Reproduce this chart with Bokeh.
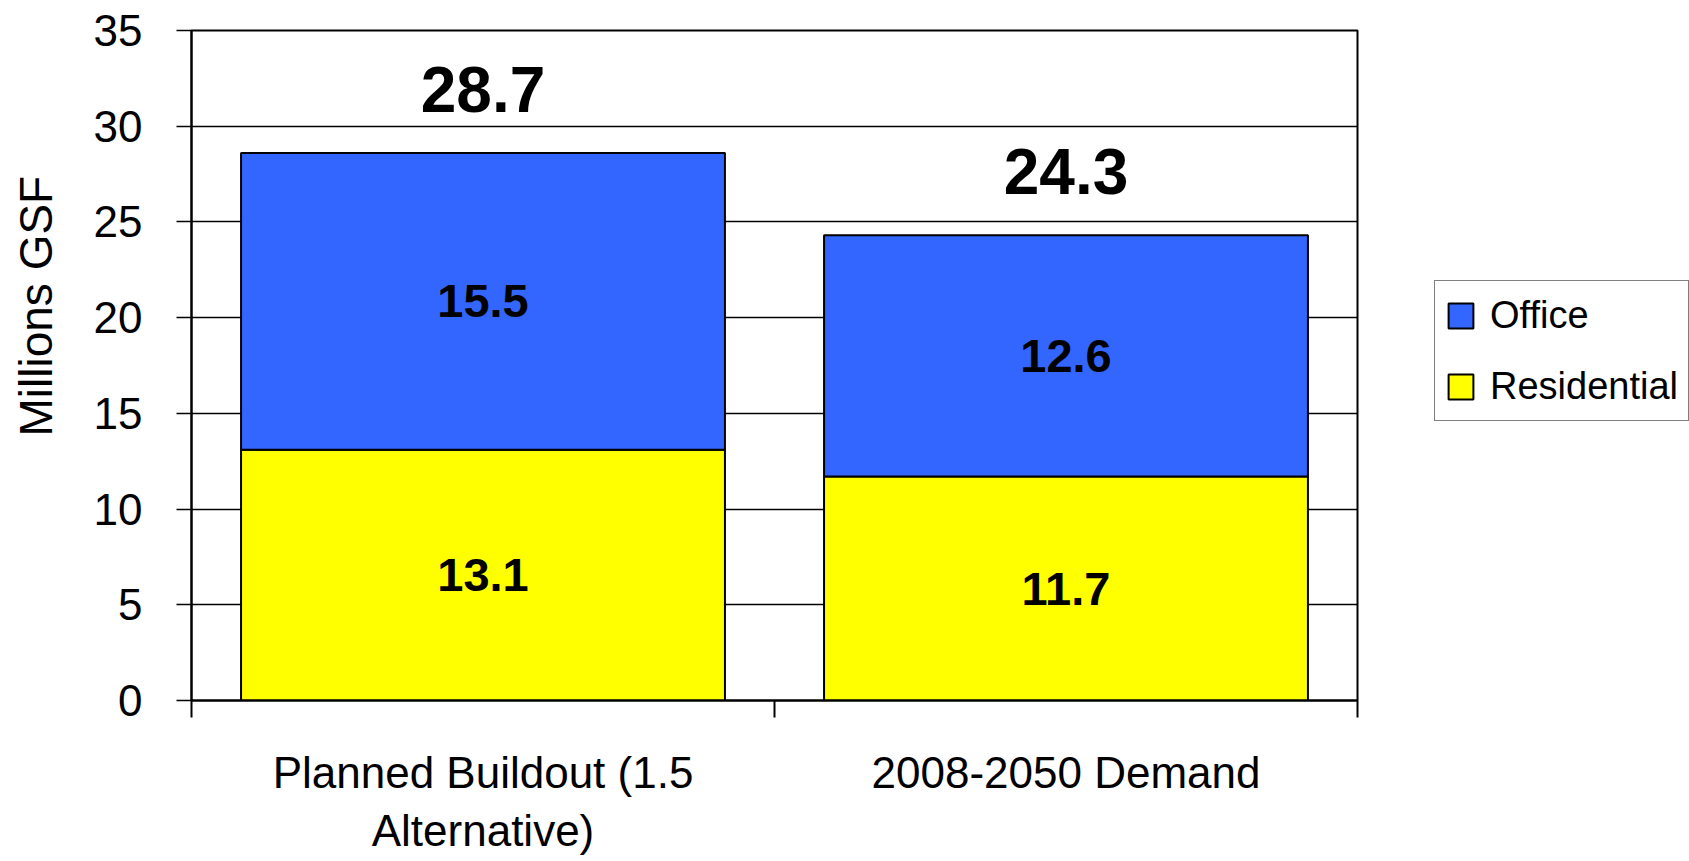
import math
import numpy as np
from bokeh.plotting import figure
from bokeh.layouts import row
from bokeh.models import (FixedTicker, Legend, LegendItem, Label,
                          ColumnDataSource, Range1d)
from bokeh.core.properties import value
from bokeh.embed import file_html
from bokeh.resources import INLINE

# ---- data ----
categories = ["Planned Buildout (1.5\nAlternative)", "2008-2050 Demand"]
residential = [13.1, 11.7]
office = [15.5, 12.6]
totals = [28.7, 24.3]
series = ["Office", "Residential"]
colors = {"Office": "#3366FF", "Residential": "#FFFF00"}
y_ticks = [0, 5, 10, 15, 20, 25, 30, 35]
y_label = "Millions GSF"

FONT = "Liberation Sans"
Y_MAX = 35

x = [i + 0.5 for i in range(len(categories))]
res = np.array(residential)
off = np.array(office)
top = res + off

src = ColumnDataSource(dict(x=x, res=residential, off=office))
stack_cols = ["res", "off"]
stack_colors = [colors["Residential"], colors["Office"]]

TITLE_W = 70

# ---- left strip holding the y-axis title ----
t = figure(width=TITLE_W, height=861, x_range=Range1d(0, 1),
           y_range=Range1d(0, Y_MAX),
           output_backend="svg", toolbar_location=None,
           x_axis_type=None, y_axis_type=None,
           min_border_left=0, min_border_right=0,
           min_border_top=30, min_border_bottom=161,
           background_fill_color="white", border_fill_color="white")
t.outline_line_color = None
t.grid.visible = False
t.add_layout(Label(x=0.5, y=20.6, text=y_label, angle=math.pi / 2,
                   text_align="center", text_baseline="middle",
                   text_font=FONT, text_font_size="46px",
                   text_color="black"))

# ---- main plot ----
p = figure(width=1360 - TITLE_W, height=861,
           x_range=Range1d(0, len(categories)), y_range=Range1d(0, Y_MAX),
           output_backend="svg", toolbar_location=None,
           min_border_left=191 - TITLE_W, min_border_right=3,
           min_border_top=30, min_border_bottom=161,
           background_fill_color="white", border_fill_color="white")

p.vbar_stack(stack_cols, x="x", width=0.83, source=src,
             fill_color=stack_colors, line_color="black", line_width=2)

# segment labels
seg_src = ColumnDataSource(dict(
    x=x + x,
    y=list(res / 2) + list(res + off / 2),
    t=[f"{v:.1f}" for v in residential] + [f"{v:.1f}" for v in office]))
p.text(x="x", y="y", text="t", source=seg_src,
       text_font=value(FONT), text_font_style="bold", text_font_size="47px",
       text_align="center", text_baseline="middle", text_color="black")

# totals
tot_src = ColumnDataSource(dict(x=x, y=list(top), t=[f"{v:.1f}" for v in totals]))
p.text(x="x", y="y", text="t", source=tot_src, y_offset=-64,
       text_font=value(FONT), text_font_style="bold", text_font_size="64px",
       text_align="center", text_baseline="alphabetic", text_color="black")

# y axis
yax = p.yaxis[0]
yax.ticker = FixedTicker(ticks=y_ticks)
yax.major_tick_out = 15
yax.major_tick_in = 0
yax.minor_tick_out = 0
yax.minor_tick_in = 0
yax.axis_line_width = 2
yax.axis_line_color = "black"
yax.major_tick_line_width = 1.5
yax.major_tick_line_color = "black"
yax.major_label_text_font = FONT
yax.major_label_text_font_size = "44px"
yax.major_label_text_color = "black"
yax.major_label_standoff = 34

# x axis
xax = p.xaxis[0]
xax.ticker = FixedTicker(ticks=x, minor_ticks=list(range(len(categories) + 1)))
xax.major_label_overrides = {xi: c for xi, c in zip(x, categories)}
xax.major_tick_out = 0
xax.major_tick_in = 0
xax.minor_tick_out = 17
xax.minor_tick_in = 0
xax.minor_tick_line_width = 2
xax.minor_tick_line_color = "black"
xax.axis_line_width = 2
xax.axis_line_color = "black"
xax.major_label_text_font = FONT
xax.major_label_text_font_size = "44px"
xax.major_label_text_color = "black"
xax.major_label_standoff = 30

p.xgrid.visible = False
p.ygrid.ticker = FixedTicker(ticks=y_ticks)
p.ygrid.grid_line_color = "black"
p.ygrid.grid_line_width = 1.5

p.outline_line_color = "black"
p.outline_line_width = 2

# ---- legend panel (separate figure to the right of the plot) ----
q = figure(width=329, height=861,
           x_range=Range1d(0, len(categories)), y_range=Range1d(0, Y_MAX),
           output_backend="svg", toolbar_location=None,
           x_axis_type=None, y_axis_type=None,
           min_border_left=0, min_border_right=0,
           min_border_top=30, min_border_bottom=161,
           background_fill_color="white", border_fill_color="white")
q.outline_line_color = None
q.grid.visible = False

# same stacked bars, hidden: they only feed the legend swatches
q_res, q_off = q.vbar_stack(stack_cols, x="x", width=0.83, source=src,
                            fill_color=stack_colors, line_color="black",
                            line_width=2, visible=False)
legend_renderers = {"Office": q_off, "Residential": q_res}
items = [LegendItem(label=name, renderers=[legend_renderers[name]])
         for name in series]

legend = Legend(items=items, location=(74, 279), margin=0, padding=10,
                spacing=23, glyph_width=31, glyph_height=31, label_height=48,
                label_standoff=14, label_text_font=FONT,
                label_text_font_size="38px", label_text_color="black",
                border_line_color="black", border_line_width=1.5,
                background_fill_color="white", click_policy="none")
q.add_layout(legend, "center")

layout = row(t, p, q, spacing=0)
open("out.html", "w").write(file_html(layout, INLINE))
